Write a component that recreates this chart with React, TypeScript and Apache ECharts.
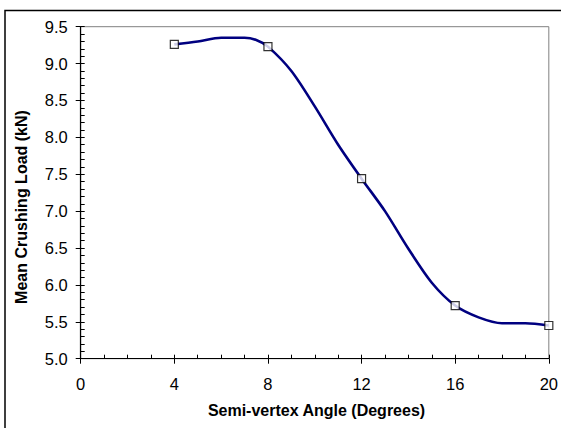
import React, { useEffect, useRef } from "react";
import * as echarts from "echarts";

const curveX = [4, 5, 6, 7, 7.5, 8, 9, 10, 11, 12, 13, 14, 15, 16, 17, 18, 19, 20];
const curveY = [9.26, 9.3, 9.35, 9.35, 9.32, 9.23, 8.9, 8.42, 7.9, 7.44, 7.0, 6.49, 6.03, 5.72, 5.56, 5.48, 5.48, 5.45];
const markerX = [4, 8, 12, 16, 20];
const markerY = [9.26, 9.23, 7.44, 5.72, 5.45];
const xTitle = "Semi-vertex Angle (Degrees)";
const yTitle = "Mean Crushing Load (kN)";

const FONT = "'Liberation Sans', Arial, sans-serif";

export default function App() {
  const ref = useRef<HTMLDivElement>(null);
  useEffect(() => {
    if (!ref.current) return;
    const chart = echarts.init(ref.current, undefined, { renderer: "svg" });
    const xBase = { type: "value", min: 0, max: 20, interval: 4, position: "bottom" };
    const yBase = { type: "value", min: 5, max: 9.5, interval: 0.5, position: "left" };
    chart.setOption({
      animation: false,
      backgroundColor: "#fff",
      grid: {
        left: 80.7,
        top: 26.7,
        right: 9.3,
        bottom: 69.3,
        show: true,
        borderColor: "#808080",
        borderWidth: 1,
        backgroundColor: "transparent",
      },
      xAxis: [
        {
          ...xBase,
          axisLine: { show: true, onZero: false, lineStyle: { color: "#000", width: 1.2 } },
          axisTick: { show: true, inside: false, length: 5, lineStyle: { color: "#000" } },
          minorTick: { show: false },
          splitLine: { show: false },
          axisLabel: { color: "#000", fontSize: 16.5, fontFamily: FONT, margin: 17 },
        },
        {
          ...xBase,
          axisLine: { show: false, onZero: false },
          axisTick: { show: true, inside: true, length: 4, lineStyle: { color: "#000" } },
          minorTick: { show: true, splitNumber: 4, length: 4, lineStyle: { color: "#000" } },
          splitLine: { show: false },
          minorSplitLine: { show: false },
          axisLabel: { show: false },
        },
      ],
      yAxis: [
        {
          ...yBase,
          axisLine: { show: true, onZero: false, lineStyle: { color: "#000", width: 1.2 } },
          axisTick: { show: true, inside: false, length: 5, lineStyle: { color: "#000" } },
          minorTick: { show: false },
          splitLine: { show: false },
          axisLabel: {
            color: "#000",
            fontSize: 16.5,
            fontFamily: FONT,
            margin: 13,
            formatter: (v: number) => v.toFixed(1),
          },
        },
        {
          ...yBase,
          axisLine: { show: false, onZero: false },
          axisTick: { show: true, inside: true, length: 4, lineStyle: { color: "#000" } },
          minorTick: { show: true, splitNumber: 5, length: 4, lineStyle: { color: "#000" } },
          splitLine: { show: false },
          minorSplitLine: { show: false },
          axisLabel: { show: false },
        },
      ],
      graphic: [
        {
          type: "rect",
          shape: { x: 5, y: 10.5, width: 600, height: 500 },
          style: { fill: "none", stroke: "#000", lineWidth: 1.5 },
          silent: true,
          z: -10,
        },
        {
          type: "text",
          x: 316.5,
          y: 410,
          style: {
            text: xTitle,
            fill: "#000",
            font: `bold 16px ${FONT}`,
            align: "center",
            verticalAlign: "middle",
          },
        },
        {
          type: "text",
          x: 21,
          y: 207,
          rotation: Math.PI / 2,
          style: {
            text: yTitle,
            fill: "#000",
            font: `bold 16px ${FONT}`,
            align: "center",
            verticalAlign: "middle",
          },
        },
      ],
      series: [
        {
          type: "line",
          xAxisIndex: 0,
          yAxisIndex: 0,
          data: curveX.map((x, i) => [x, curveY[i]]),
          smooth: 0.3,
          showSymbol: false,
          symbol: "none",
          lineStyle: { color: "#000080", width: 2.6 },
          z: 2,
        },
        {
          type: "scatter",
          xAxisIndex: 0,
          yAxisIndex: 0,
          data: markerX.map((x, i) => [x, markerY[i]]),
          symbol: "rect",
          symbolSize: 8,
          itemStyle: { color: "#fff", borderColor: "#000", borderWidth: 1.2 },
          z: 3,
        },
      ],
    });
    return () => chart.dispose();
  }, []);
  return (
    <div
      ref={ref}
      style={{ position: "fixed", left: 0, top: 0, width: 561, height: 428, background: "#fff" }}
    />
  );
}
